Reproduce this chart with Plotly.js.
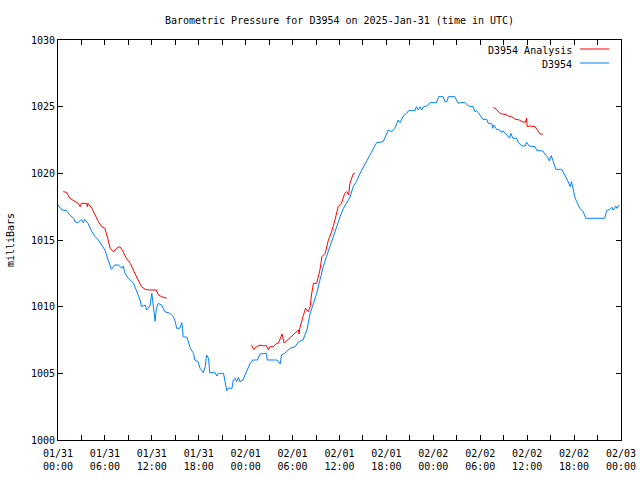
<!DOCTYPE html>
<html>
<head>
<meta charset="utf-8">
<script src="https://cdn.plot.ly/plotly-3.0.1.min.js"></script>
<style>html,body{margin:0;padding:0;background:#fff;}#chart{width:640px;height:480px;}</style>
</head>
<body>
<div id="chart"></div>
<script>
// D3954 observed pressure (mb)
var blueTime = [
'2025-01-31 00:00','2025-01-31 00:30','2025-01-31 01:05','2025-01-31 01:30','2025-01-31 02:00','2025-01-31 02:10','2025-01-31 02:35','2025-01-31 03:00','2025-01-31 03:15','2025-01-31 03:25','2025-01-31 03:50','2025-01-31 04:20','2025-01-31 04:45','2025-01-31 05:10','2025-01-31 05:35','2025-01-31 06:00','2025-01-31 06:25','2025-01-31 06:50','2025-01-31 07:15','2025-01-31 07:45','2025-01-31 08:10','2025-01-31 08:20','2025-01-31 08:35','2025-01-31 09:00','2025-01-31 09:40','2025-01-31 10:05','2025-01-31 10:30','2025-01-31 10:40','2025-01-31 11:10','2025-01-31 11:20','2025-01-31 11:45','2025-01-31 12:00','2025-01-31 12:10','2025-01-31 12:25','2025-01-31 12:35','2025-01-31 12:50','2025-01-31 13:15','2025-01-31 13:40','2025-01-31 14:20','2025-01-31 14:45','2025-01-31 15:00','2025-01-31 15:10','2025-01-31 15:35','2025-01-31 15:50','2025-01-31 15:55','2025-01-31 16:00','2025-01-31 16:30','2025-01-31 16:40','2025-01-31 16:55','2025-01-31 17:20','2025-01-31 17:30','2025-01-31 17:55','2025-01-31 18:10','2025-01-31 18:35','2025-01-31 18:50','2025-01-31 19:00','2025-01-31 19:15','2025-01-31 19:25','2025-01-31 20:05','2025-01-31 20:20','2025-01-31 20:30','2025-01-31 21:10','2025-01-31 21:20','2025-01-31 21:35','2025-01-31 21:45','2025-01-31 22:15','2025-01-31 22:25','2025-01-31 22:40','2025-01-31 22:50','2025-01-31 23:05','2025-01-31 23:15','2025-01-31 23:40','2025-01-31 23:55',
'2025-02-01 00:20','2025-02-01 00:35','2025-02-01 00:55','2025-02-01 01:30','2025-02-01 01:50','2025-02-01 02:40','2025-02-01 02:45','2025-02-01 04:00','2025-02-01 04:25','2025-02-01 04:35','2025-02-01 05:00','2025-02-01 05:40','2025-02-01 06:20','2025-02-01 06:45','2025-02-01 07:20','2025-02-01 07:50','2025-02-01 08:00','2025-02-01 08:15','2025-02-01 08:40','2025-02-01 09:05','2025-02-01 09:30','2025-02-01 09:55','2025-02-01 10:20','2025-02-01 10:45','2025-02-01 11:15','2025-02-01 11:40','2025-02-01 12:05','2025-02-01 12:30','2025-02-01 12:55','2025-02-01 13:20','2025-02-01 13:45','2025-02-01 14:10','2025-02-01 14:35','2025-02-01 15:05','2025-02-01 15:30','2025-02-01 15:55','2025-02-01 16:20','2025-02-01 16:45','2025-02-01 17:35','2025-02-01 18:00','2025-02-01 18:15','2025-02-01 18:40','2025-02-01 19:05','2025-02-01 19:20','2025-02-01 19:30','2025-02-01 19:45','2025-02-01 20:10','2025-02-01 20:35','2025-02-01 20:50','2025-02-01 21:40','2025-02-01 21:50','2025-02-01 22:05','2025-02-01 22:20','2025-02-01 22:30','2025-02-01 22:45','2025-02-01 23:10','2025-02-01 23:35',
'2025-02-02 00:25','2025-02-02 00:40','2025-02-02 01:15','2025-02-02 01:30','2025-02-02 01:45','2025-02-02 01:55','2025-02-02 02:45','2025-02-02 03:10','2025-02-02 03:25','2025-02-02 04:05','2025-02-02 04:30','2025-02-02 05:05','2025-02-02 05:20','2025-02-02 05:30','2025-02-02 05:45','2025-02-02 06:00','2025-02-02 06:20','2025-02-02 06:50','2025-02-02 07:00','2025-02-02 07:30','2025-02-02 07:35','2025-02-02 07:45','2025-02-02 08:05','2025-02-02 08:30','2025-02-02 08:45','2025-02-02 08:55','2025-02-02 09:15','2025-02-02 09:35','2025-02-02 09:45','2025-02-02 09:55','2025-02-02 10:10','2025-02-02 10:40','2025-02-02 10:50','2025-02-02 11:20','2025-02-02 11:45','2025-02-02 11:55','2025-02-02 12:15','2025-02-02 13:00','2025-02-02 13:15','2025-02-02 14:00','2025-02-02 14:15','2025-02-02 14:35','2025-02-02 14:50','2025-02-02 15:05','2025-02-02 15:20','2025-02-02 15:40','2025-02-02 16:25','2025-02-02 16:50','2025-02-02 17:15','2025-02-02 17:30','2025-02-02 17:40','2025-02-02 17:55','2025-02-02 18:05','2025-02-02 18:20','2025-02-02 18:45','2025-02-02 19:10','2025-02-02 19:30','2025-02-02 21:05','2025-02-02 21:55','2025-02-02 22:10','2025-02-02 22:35','2025-02-02 22:50','2025-02-02 23:00','2025-02-02 23:20','2025-02-02 23:30','2025-02-02 23:45'
];
var blueValue = [
1017.63,1017.25,1017.2,1016.88,1016.63,1016.37,1016.3,1016.55,1016.3,1016.55,1016.25,1015.62,1015.25,1015.0,1014.62,1014.25,1013.5,1012.8,1013.12,1013.12,1012.88,1013.05,1012.5,1012.13,1011.75,1011.12,1010.5,1010.0,1010.12,1009.75,1010.05,1011.0,1010.12,1008.9,1009.88,1010.25,1010.12,1009.62,1009.5,1009.25,1008.87,1008.38,1008.38,1008.8,1008.38,1007.75,1007.7,1007.37,1006.88,1006.5,1006.0,1005.87,1005.38,1005.05,1005.5,1006.38,1006.13,1005.05,1005.05,1004.8,1005.0,1005.0,1004.5,1003.7,1003.88,1003.88,1004.5,1004.63,1004.37,1004.7,1004.37,1004.5,1004.88,
1005.5,1005.75,1006.0,1006.0,1006.45,1006.5,1006.0,1006.0,1005.7,1006.38,1006.5,1006.88,1007.0,1007.37,1007.5,1008.25,1008.75,1009.5,1010.25,1011.0,1012.0,1013.0,1013.75,1014.5,1015.25,1016.0,1016.75,1017.38,1017.75,1018.2,1019.0,1019.38,1019.95,1020.5,1021.0,1021.5,1021.88,1022.3,1022.37,1022.88,1023.25,1023.12,1023.38,1023.75,1024.0,1023.8,1024.3,1024.5,1024.7,1024.7,1025.0,1024.75,1025.0,1024.75,1025.0,1025.05,1025.3,
1025.3,1025.75,1025.75,1025.37,1025.37,1025.75,1025.75,1025.25,1025.3,1025.3,1025.05,1025.0,1024.62,1024.7,1024.56,1024.37,1024.05,1024.05,1023.77,1023.7,1023.38,1023.62,1023.3,1023.25,1023.05,1023.2,1023.0,1022.75,1022.63,1023.0,1022.63,1022.63,1022.33,1022.05,1022.05,1022.33,1022.05,1022.0,1021.7,1021.68,1021.45,1021.25,1020.93,1021.33,1020.88,1020.3,1020.3,1019.88,1019.37,1019.0,1019.37,1018.75,1018.25,1017.87,1017.38,1017.12,1016.63,1016.63,1016.63,1017.2,1017.3,1017.45,1017.25,1017.55,1017.37,1017.63
];

// D3954 Analysis pressure (mb); null separates the analysis runs
var redTime = [
'2025-01-31 00:40','2025-01-31 01:05','2025-01-31 01:30','2025-01-31 02:10','2025-01-31 02:35','2025-01-31 02:50','2025-01-31 03:00','2025-01-31 03:40','2025-01-31 03:45','2025-01-31 03:50','2025-01-31 04:20','2025-01-31 04:45','2025-01-31 05:10','2025-01-31 05:35','2025-01-31 06:00','2025-01-31 06:25','2025-01-31 06:40','2025-01-31 07:05','2025-01-31 07:30','2025-01-31 07:55','2025-01-31 08:20','2025-01-31 08:45','2025-01-31 09:15','2025-01-31 09:50','2025-01-31 10:15','2025-01-31 10:40','2025-01-31 11:10','2025-01-31 11:45','2025-01-31 12:35','2025-01-31 12:50','2025-01-31 13:15','2025-01-31 13:55',
'2025-01-31 18:00',
'2025-02-01 00:45','2025-02-01 01:00','2025-02-01 01:25','2025-02-01 01:50','2025-02-01 02:15','2025-02-01 02:40','2025-02-01 02:55','2025-02-01 03:05','2025-02-01 03:30','2025-02-01 04:00','2025-02-01 04:10','2025-02-01 04:40','2025-02-01 04:55','2025-02-01 05:25','2025-02-01 05:40','2025-02-01 06:45','2025-02-01 06:50','2025-02-01 06:55','2025-02-01 07:20','2025-02-01 07:40','2025-02-01 08:00','2025-02-01 08:15','2025-02-01 08:25','2025-02-01 08:40','2025-02-01 09:05','2025-02-01 09:30','2025-02-01 09:45','2025-02-01 10:10','2025-02-01 10:35','2025-02-01 11:00','2025-02-01 11:25','2025-02-01 11:50','2025-02-01 12:15','2025-02-01 12:40','2025-02-01 12:55','2025-02-01 13:10','2025-02-01 13:20','2025-02-01 13:45','2025-02-01 14:00',
'2025-02-01 20:00',
'2025-02-02 07:40','2025-02-02 08:05','2025-02-02 08:25','2025-02-02 08:45','2025-02-02 09:10','2025-02-02 09:35','2025-02-02 10:00','2025-02-02 10:25','2025-02-02 11:00','2025-02-02 11:20','2025-02-02 11:45','2025-02-02 11:55','2025-02-02 12:00','2025-02-02 12:20','2025-02-02 13:00','2025-02-02 13:15','2025-02-02 13:25','2025-02-02 13:40','2025-02-02 14:00'
];
var redValue = [
1018.62,1018.58,1018.13,1017.87,1017.75,1017.5,1017.75,1017.75,1017.5,1017.75,1017.38,1016.88,1016.37,1016.0,1015.88,1015.0,1014.38,1014.12,1014.38,1014.5,1014.12,1013.62,1013.25,1012.5,1012.0,1011.5,1011.3,1011.25,1011.25,1010.88,1010.75,1010.63,
null,
1007.12,1006.8,1007.0,1007.12,1007.07,1007.07,1006.75,1007.0,1007.0,1007.25,1007.25,1007.95,1007.27,1007.55,1007.63,1008.25,1007.95,1008.38,1009.25,1009.88,1009.62,1010.0,1010.88,1011.75,1011.75,1012.75,1013.75,1014.0,1015.0,1015.62,1016.5,1017.5,1017.75,1018.5,1018.62,1018.38,1019.25,1019.95,1020.0,
null,
1024.95,1024.8,1024.55,1024.45,1024.43,1024.3,1024.25,1024.07,1024.0,1023.88,1023.83,1024.13,1023.5,1023.55,1023.5,1023.3,1023.12,1022.95,1022.93
];

var tickVals = ['2025-01-31 00:00','2025-01-31 03:00','2025-01-31 06:00','2025-01-31 09:00','2025-01-31 12:00','2025-01-31 15:00','2025-01-31 18:00','2025-01-31 21:00','2025-02-01 00:00','2025-02-01 03:00','2025-02-01 06:00','2025-02-01 09:00','2025-02-01 12:00','2025-02-01 15:00','2025-02-01 18:00','2025-02-01 21:00','2025-02-02 00:00','2025-02-02 03:00','2025-02-02 06:00','2025-02-02 09:00','2025-02-02 12:00','2025-02-02 15:00','2025-02-02 18:00','2025-02-02 21:00','2025-02-03 00:00'];
var tickText = ['01/31<br>00:00','','01/31<br>06:00','','01/31<br>12:00','','01/31<br>18:00','','02/01<br>00:00','','02/01<br>06:00','','02/01<br>12:00','','02/01<br>18:00','','02/02<br>00:00','','02/02<br>06:00','','02/02<br>12:00','','02/02<br>18:00','','02/03<br>00:00'];
var yTicks = [1000,1005,1010,1015,1020,1025,1030];

var FONT = {family: 'DejaVu Sans Mono, monospace', size: 10, color: '#000'};
var RED = '#ff0000', BLUE = '#0080ff';

var traces = [
  {x: redTime, y: redValue, type: 'scatter', mode: 'lines', name: 'D3954 Analysis',
   line: {color: RED, width: 1}, connectgaps: false, hoverinfo: 'skip'},
  {x: blueTime, y: blueValue, type: 'scatter', mode: 'lines', name: 'D3954',
   line: {color: BLUE, width: 1}, hoverinfo: 'skip'}
];

var layout = {
  width: 640, height: 480,
  margin: {l: 58, r: 19, t: 40, b: 40},
  paper_bgcolor: '#fff', plot_bgcolor: '#fff',
  font: FONT,
  showlegend: false,
  title: {text: 'Barometric Pressure for D3954 on 2025-Jan-31 (time in UTC)', font: FONT,
          x: 0.5, xref: 'paper', xanchor: 'center', y: 1, yref: 'paper', yanchor: 'bottom', pad: {b: 16}},
  xaxis: {
    type: 'date', range: ['2025-01-31 00:00', '2025-02-03 00:00'],
    tickmode: 'array', tickvals: tickVals, ticktext: tickText,
    ticks: 'inside', ticklen: 5, tickcolor: '#000', tickwidth: 1,
    showline: true, linecolor: '#000', linewidth: 1, mirror: 'ticks',
    showgrid: false, zeroline: false, tickfont: FONT, fixedrange: true,
    ticklabelstandoff: 4
  },
  yaxis: {
    range: [1000, 1030], tickmode: 'array', tickvals: yTicks,
    ticktext: yTicks.map(String),
    ticks: 'inside', ticklen: 5, tickcolor: '#000', tickwidth: 1,
    showline: true, linecolor: '#000', linewidth: 1, mirror: 'ticks',
    showgrid: false, zeroline: false, tickfont: FONT, fixedrange: true,
    title: {text: 'milliBars', font: FONT, standoff: 14}
  },
  annotations: [
    {text: 'D3954 Analysis', xref: 'paper', yref: 'paper', x: 0.9165, y: 0.973,
     xanchor: 'right', yanchor: 'middle', showarrow: false, font: FONT},
    {text: 'D3954', xref: 'paper', yref: 'paper', x: 0.9165, y: 0.938,
     xanchor: 'right', yanchor: 'middle', showarrow: false, font: FONT}
  ],
  shapes: [
    {type: 'line', xref: 'paper', yref: 'paper', x0: 0.927, x1: 0.979, y0: 0.9775, y1: 0.9775,
     line: {color: RED, width: 1}},
    {type: 'line', xref: 'paper', yref: 'paper', x0: 0.927, x1: 0.979, y0: 0.9425, y1: 0.9425,
     line: {color: BLUE, width: 1}}
  ]
};

Plotly.newPlot('chart', traces, layout, {staticPlot: true, displayModeBar: false});
</script>
</body>
</html>
